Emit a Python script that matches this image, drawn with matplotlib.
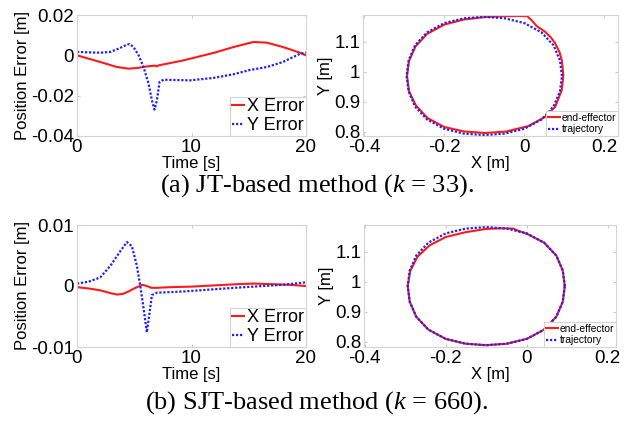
import matplotlib
matplotlib.use("Agg")
import matplotlib.pyplot as plt

plt.rcParams['font.family'] = ['Liberation Sans', 'DejaVu Sans']
plt.rcParams['mathtext.fontset'] = 'custom'
plt.rcParams['mathtext.rm'] = 'Liberation Serif'
plt.rcParams['mathtext.it'] = 'Liberation Serif:italic'

# ---------------- data ----------------
# (a) JT-based: position errors
t_ax_a = [0, 2.03, 3.49, 4.51, 5.23, 6.1, 6.83, 6.98, 7.12, 9.3, 12.0, 13.66, 15.4, 16.57, 18.0, 19.48, 20]
x_err_a = [0, -0.0033, -0.0058, -0.0066, -0.0063, -0.0055, -0.0051, -0.0055, -0.005, -0.0025, 0.0013,
           0.0041, 0.0066, 0.0063, 0.0041, 0.0013, 0.0]
t_ay_a = [0, 0.87, 2.03, 2.91, 3.63, 4.36, 4.59, 4.94, 5.38, 5.81, 6.25, 6.54, 6.77, 6.98, 7.21, 7.56,
          9.88, 11.92, 13.66, 15.0, 16.57, 17.99, 19.48, 20]
y_err_a = [0.0017, 0.0015, 0.0013, 0.0017, 0.0033, 0.0053, 0.0056, 0.0041, 0.0, -0.0058, -0.014, -0.0223,
           -0.0269, -0.0223, -0.0132, -0.0121, -0.0124, -0.0112, -0.0094, -0.0074, -0.0058, -0.0033,
           0.0008, 0.0013]

# (b) SJT-based: position errors
t_bx = [0, 1, 2, 3, 3.5, 4, 4.5, 5, 5.7, 6.1, 6.5, 7, 8, 10, 12, 14, 15.4, 17, 18.5, 20]
x_err_b = [-0.0002, -0.0004, -0.0007, -0.0012, -0.0014, -0.0013, -0.0009, -0.0004, 0.0002, 0.0,
           -0.0003, -0.0003, -0.0002, -0.0001, 0.0001, 0.0003, 0.0004, 0.0003, 0.0002, 0.0]
t_by = [0, 1, 2.03, 2.91, 3.78, 4.36, 4.8, 5.23, 5.52, 5.81, 6.1, 6.4, 6.54, 6.98, 9.3, 13.7, 18.0, 20]
y_err_b = [0.0004, 0.0007, 0.0014, 0.0033, 0.0057, 0.0072, 0.0065, 0.0033, 0.0001, -0.0036, -0.0076,
           -0.0035, -0.0015, -0.0011, -0.0009, -0.0003, 0.0002, 0.0006]

# desired trajectory (same in both)
traj_x = [0.094, 0.089, 0.073, 0.043, 0.000, -0.049, -0.100, -0.151, -0.200, -0.243, -0.273, -0.289,
          -0.294, -0.289, -0.273, -0.243, -0.200, -0.151, -0.100, -0.049, 0.000, 0.043, 0.073, 0.089, 0.094]
traj_y = [0.986, 1.038, 1.088, 1.131, 1.162, 1.178, 1.183, 1.178, 1.162, 1.131, 1.088, 1.038,
          0.986, 0.934, 0.884, 0.841, 0.810, 0.794, 0.789, 0.794, 0.810, 0.841, 0.884, 0.934, 0.986]

# end-effector path (a)
ee_a_x = [0.006, 0.018, 0.031, 0.052, 0.066, 0.077, 0.088, 0.0935, 0.0975, 0.0935, 0.077, 0.050, 0.010,
          -0.045, -0.098, -0.150, -0.200, -0.242, -0.271, -0.288, -0.293, -0.288, -0.272, -0.243,
          -0.200, -0.151, -0.100, -0.050, 0.006]
ee_a_y = [1.186, 1.172, 1.152, 1.133, 1.115, 1.095, 1.065, 1.039, 0.989, 0.939, 0.883, 0.848, 0.819,
          0.801, 0.796, 0.801, 0.816, 0.846, 0.888, 0.935, 0.986, 1.036, 1.084, 1.126,
          1.157, 1.174, 1.182, 1.185, 1.186]

# end-effector path (b)
ee_b_x = [0.000, -0.020, -0.033, -0.060, -0.100, -0.151, -0.200, -0.240, -0.270, -0.288, -0.294,
          -0.289, -0.273, -0.243, -0.200, -0.151, -0.100, -0.049, 0.000, 0.043, 0.073, 0.089, 0.094,
          0.089, 0.073, 0.043, 0.000]
ee_b_y = [1.161, 1.170, 1.178, 1.179, 1.177, 1.166, 1.150, 1.122, 1.084, 1.036, 0.986,
          0.934, 0.884, 0.841, 0.810, 0.794, 0.789, 0.794, 0.810, 0.841, 0.884, 0.934, 0.986,
          1.038, 1.088, 1.131, 1.161]

err_yticks_a = [-0.04, -0.02, 0, 0.02]
err_yticks_b = [-0.01, 0, 0.01]
time_ticks = [0, 10, 20]
xy_xticks = [-0.4, -0.2, 0, 0.2]
xy_yticks = [0.8, 0.9, 1.0, 1.1]

# ---------------- drawing ----------------
fig = plt.figure(figsize=(6.3, 4.23), dpi=100)
W, H = 630.0, 423.0


def ax_px(l, t, r, b):
    return fig.add_axes([l / W, (H - b) / H, (r - l) / W, (b - t) / H])


RED = '#ff1a1a'
BLUE = '#2020ff'
GRAYEDGE = '#d4d4d4'


def style(ax):
    for s in ax.spines.values():
        s.set_color(GRAYEDGE)
        s.set_linewidth(0.8)
    ax.tick_params(direction='in', length=2.5, color='#cccccc', labelsize=13.5, pad=2,
                   top=True, right=True)


def fmt(v):
    return '%g' % v


def error_plot(ax, tx, xe, ty, ye, yticks, ylim):
    ax.plot(tx, xe, color=RED, lw=1.5, label='X Error')
    ax.plot(ty, ye, color=BLUE, lw=1.6, ls=(0, (1, 0.8)), label='Y Error')
    ax.set_xlim(0, 20)
    ax.set_ylim(*ylim)
    ax.set_xticks(time_ticks)
    ax.set_xticklabels([fmt(v) for v in time_ticks])
    ax.set_yticks(yticks)
    ax.set_yticklabels([fmt(v) for v in yticks])
    style(ax)
    ax.set_xlabel('Time [s]', fontsize=12, labelpad=0)
    ax.set_ylabel('Position Error [m]', fontsize=12, labelpad=1)
    leg = ax.legend(loc='lower right', fontsize=13, handlelength=0.7, handletextpad=0.15,
                    borderpad=0.1, labelspacing=0.1, borderaxespad=0.0, fancybox=False,
                    framealpha=1)
    leg.get_frame().set_edgecolor(GRAYEDGE)
    leg.get_frame().set_linewidth(0.8)


def xy_plot(ax, xlim, ylim, ex, ey):
    ax.plot(ex, ey, color=RED, lw=1.5, label='end-effector')
    ax.plot(traj_x, traj_y, color=BLUE, lw=1.6, ls=(0, (1, 0.8)), label='trajectory')
    ax.set_xlim(*xlim)
    ax.set_ylim(*ylim)
    ax.set_xticks(xy_xticks)
    ax.set_xticklabels([fmt(v) for v in xy_xticks])
    ax.set_yticks(xy_yticks)
    ax.set_yticklabels([fmt(v) for v in xy_yticks])
    style(ax)
    ax.set_xlabel('X [m]', fontsize=12, labelpad=0)
    ax.set_ylabel('Y [m]', fontsize=12, labelpad=1)
    leg = ax.legend(loc='lower right', fontsize=7.4, handlelength=1.2, handletextpad=0.2,
                    borderpad=0.15, labelspacing=0.15, borderaxespad=0.0, fancybox=False,
                    framealpha=1)
    leg.get_frame().set_edgecolor(GRAYEDGE)
    leg.get_frame().set_linewidth(0.8)


ax1 = ax_px(77, 15, 306, 136)
error_plot(ax1, t_ax_a, x_err_a, t_ay_a, y_err_a, err_yticks_a, (-0.04, 0.02))
ax2 = ax_px(363, 15, 618, 136)
xy_plot(ax2, (-0.403, 0.234), (0.786, 1.189), ee_a_x, ee_a_y)

ax3 = ax_px(77, 225, 306, 347)
error_plot(ax3, t_bx, x_err_b, t_by, y_err_b, err_yticks_b, (-0.01, 0.01))
ax4 = ax_px(364, 225, 616, 347)
xy_plot(ax4, (-0.402, 0.2205), (0.783, 1.19), ee_b_x, ee_b_y)

fig.text(317 / W, 1 - 186 / H, '(a) JT-based method ($k$ = 33).', ha='center', va='center',
         fontsize=19, family='Liberation Serif')
fig.text(317 / W, 1 - 403 / H, '(b) SJT-based method ($k$ = 660).', ha='center', va='center',
         fontsize=19, family='Liberation Serif')

fig.savefig('out.png', dpi=100)
